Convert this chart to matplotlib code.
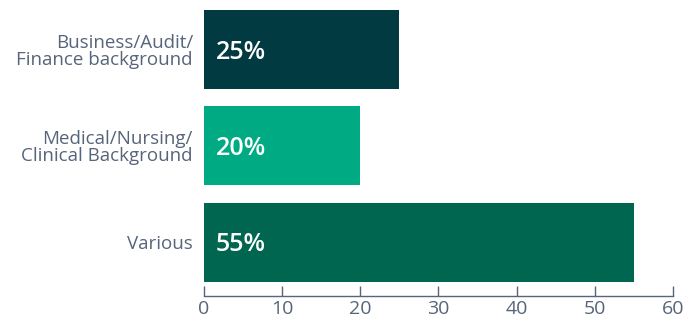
import matplotlib
matplotlib.use("Agg")
import matplotlib.pyplot as plt

categories = ["Business/Audit/\nFinance background",
              "Medical/Nursing/\nClinical Background",
              "Various"]
values = [25, 20, 55]
colors = ["#023a41", "#00ab83", "#006650"]
xticks = [0, 10, 20, 30, 40, 50, 60]

text_color = "#56657a"
plt.rcParams["font.family"] = ["Open Sans", "DejaVu Sans"]

fig = plt.figure(figsize=(6.86, 3.22), dpi=100)
ax = fig.add_axes([0.2974, 0.0807, 0.6836, 0.915])

y = list(range(len(categories)))
ax.barh(y, values, height=0.82, color=colors)

for yi, v in zip(y, values):
    ax.text(1.5, yi + 0.03, f"{v}%", color="white", fontsize=18, fontweight="semibold",
            va="center", ha="left")

ax.set_xlim(0, 60)
ax.set_ylim(2.56, -0.5)
ax.set_xticks(xticks)
ax.set_xticklabels([str(t) for t in xticks], fontsize=14, color=text_color)
ax.set_yticks(y)
ax.set_yticklabels(categories, fontsize=13.5, color=text_color, linespacing=0.95)

for s in ["top", "right", "left"]:
    ax.spines[s].set_visible(False)
ax.spines["bottom"].set_color(text_color)
ax.spines["bottom"].set_linewidth(1.0)
ax.tick_params(axis="x", direction="in", length=7, width=1.0, color=text_color, pad=3)
ax.tick_params(axis="y", length=0, pad=8)

fig.savefig("out.png", dpi=100)
